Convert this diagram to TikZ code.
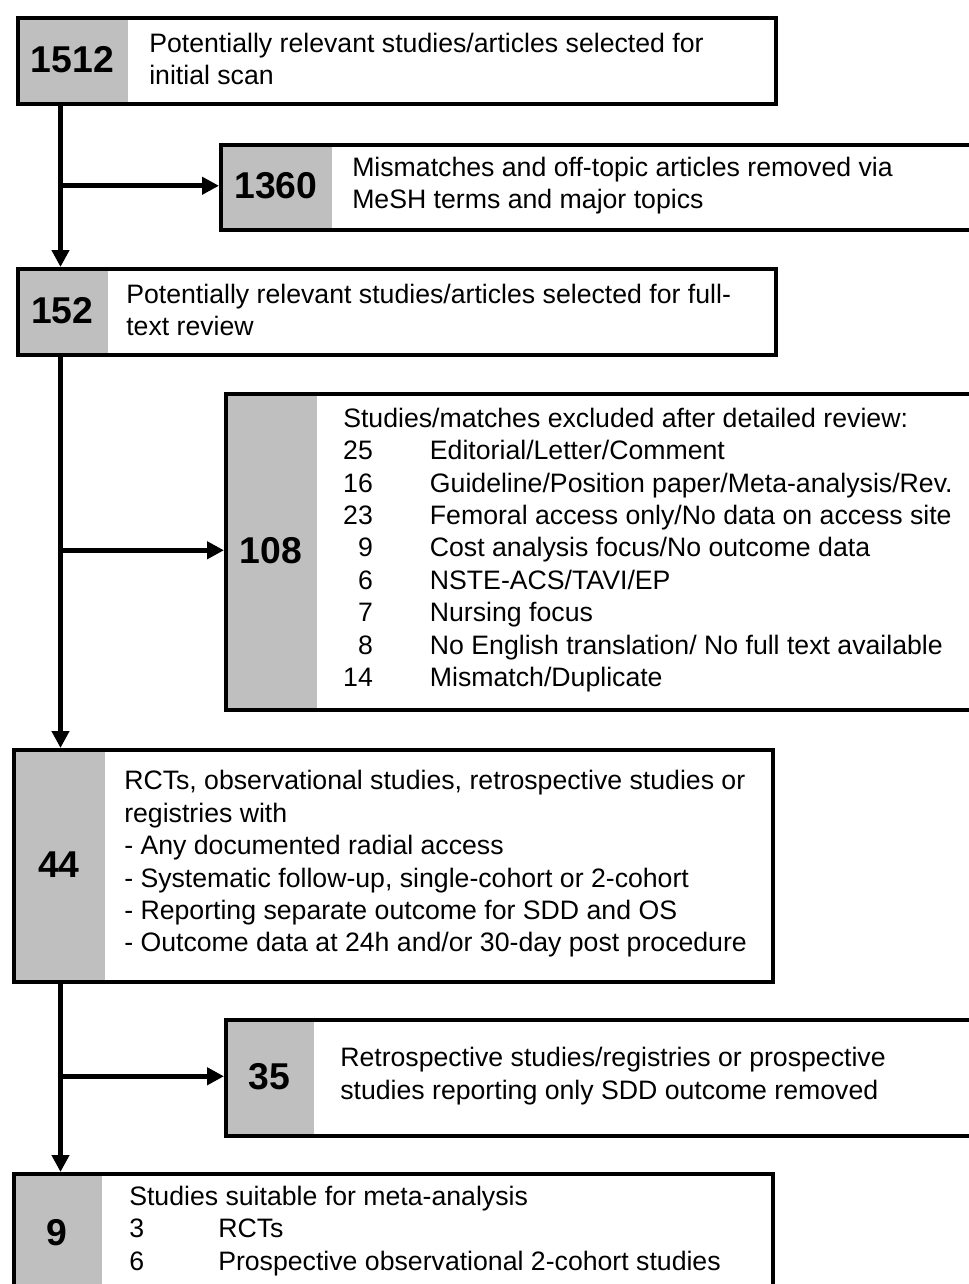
\documentclass[tikz,border=0pt]{standalone}
\usepackage{fontspec}
\setmainfont{Liberation Sans}
\usetikzlibrary{arrows.meta}

\definecolor{cellgray}{gray}{0.75}
\newcommand{\bodyfont}{\fontsize{20}{24.3}\selectfont}
\newcommand{\countfont}{\fontsize{28}{30}\selectfont\bfseries}
\newcommand{\exrow}[2]{\makebox[22.2pt][r]{#1}\hspace{42.8pt}#2}
\newcommand{\inrow}[2]{\makebox[66.75pt][l]{#1}#2}

\begin{document}
\begin{tikzpicture}[x=0.75pt, y=-0.75pt,
    frame/.style={draw, line width=3pt, anchor=north west, inner sep=0pt},
    count/.style={fill=cellgray, anchor=north west, inner sep=0pt, font=\countfont},
    info/.style={anchor=west, align=left, inner sep=0pt, font=\bodyfont},
    flow/.style={line width=3.5pt, -{Triangle[length=12.75pt, width=12.75pt]}}]
\clip (0,0) rectangle (969,1284);

    % Step boxes down the left
    \node[count, minimum width=84pt, minimum height=64.5pt] (n1512) at (16,16) {1512};
    \node[frame, minimum width=568.5pt, minimum height=64.5pt] (b1512) at (16,16) {};
    \node[info] (t1512) at (149,59) {Potentially relevant studies/articles selected for\\initial scan};

    \node[count, minimum width=69pt, minimum height=64.5pt] (n152) at (16,267) {152};
    \node[frame, minimum width=568.5pt, minimum height=64.5pt] (b152) at (16,267) {};
    \node[info] (t152) at (126,310) {Potentially relevant studies/articles selected for full-\\text review};

    \node[count, minimum width=69.75pt, minimum height=174pt] (n44) at (12,748) {44};
    \node[frame, minimum width=569.25pt, minimum height=174pt] (b44) at (12,748) {};
    \node[info] (t44) at (124,864) {RCTs, observational studies, retrospective studies or\\
        registries with\\
        - Any documented radial access\\
        - Systematic follow-up, single-cohort or 2-cohort\\
        - Reporting separate outcome for SDD and OS\\
        - Outcome data at 24h and/or 30-day post procedure};

    \node[count, minimum width=67.5pt, minimum height=90pt] (n9) at (12,1172) {9};
    \node[frame, minimum width=569.25pt, minimum height=90pt] (b9) at (12,1172) {};
    \node[info] (t9) at (129,1231) {Studies suitable for meta-analysis\\
        \inrow{3}{RCTs}\\
        \inrow{6}{Prospective observational 2-cohort studies}};

    % Exclusion boxes on the right
    \node[count, minimum width=84.75pt, minimum height=63.75pt] (n1360) at (219,143) {1360};
    \node[frame, minimum width=585.75pt, minimum height=63.75pt] (b1360) at (219,143) {};
    \node[info] (t1360) at (352,185.5) {Mismatches and off-topic articles removed via\\MeSH terms and major topics};

    \node[count, minimum width=69.75pt, minimum height=237pt] (n108) at (224,392) {108};
    \node[frame, minimum width=582pt, minimum height=237pt] (b108) at (224,392) {};
    \node[info] (t108) at (343,550) {Studies/matches excluded after detailed review:\\
        \exrow{25}{Editorial/Letter/Comment}\\
        \exrow{16}{Guideline/Position paper/Meta-analysis/Rev.}\\
        \exrow{23}{Femoral access only/No data on access site}\\
        \exrow{9}{Cost analysis focus/No outcome data}\\
        \exrow{6}{NSTE-ACS/TAVI/EP}\\
        \exrow{7}{Nursing focus}\\
        \exrow{8}{No English translation/ No full text available}\\
        \exrow{14}{Mismatch/Duplicate}};

    \node[count, minimum width=67.5pt, minimum height=87pt] (n35) at (224,1018) {35};
    \node[frame, minimum width=582pt, minimum height=87pt] (b35) at (224,1018) {};
    \node[info] (t35) at (340,1076) {Retrospective studies/registries or prospective\\studies reporting only SDD outcome removed};

    % Trunk and branches
    \coordinate (trunk) at (60.5,0);
    \draw[flow] (b1512.south -| trunk) -- (b152.north -| trunk);
    \draw[flow] (b152.south -| trunk) -- (b44.north -| trunk);
    \draw[flow] (b44.south -| trunk) -- (b9.north -| trunk);
    \draw[flow] (trunk |- n1360.west) -- (n1360.west);
    \draw[flow] (trunk |- n108.west) -- (n108.west);
    \draw[flow] (trunk |- n35.west) -- (n35.west);

\end{tikzpicture}
\end{document}
